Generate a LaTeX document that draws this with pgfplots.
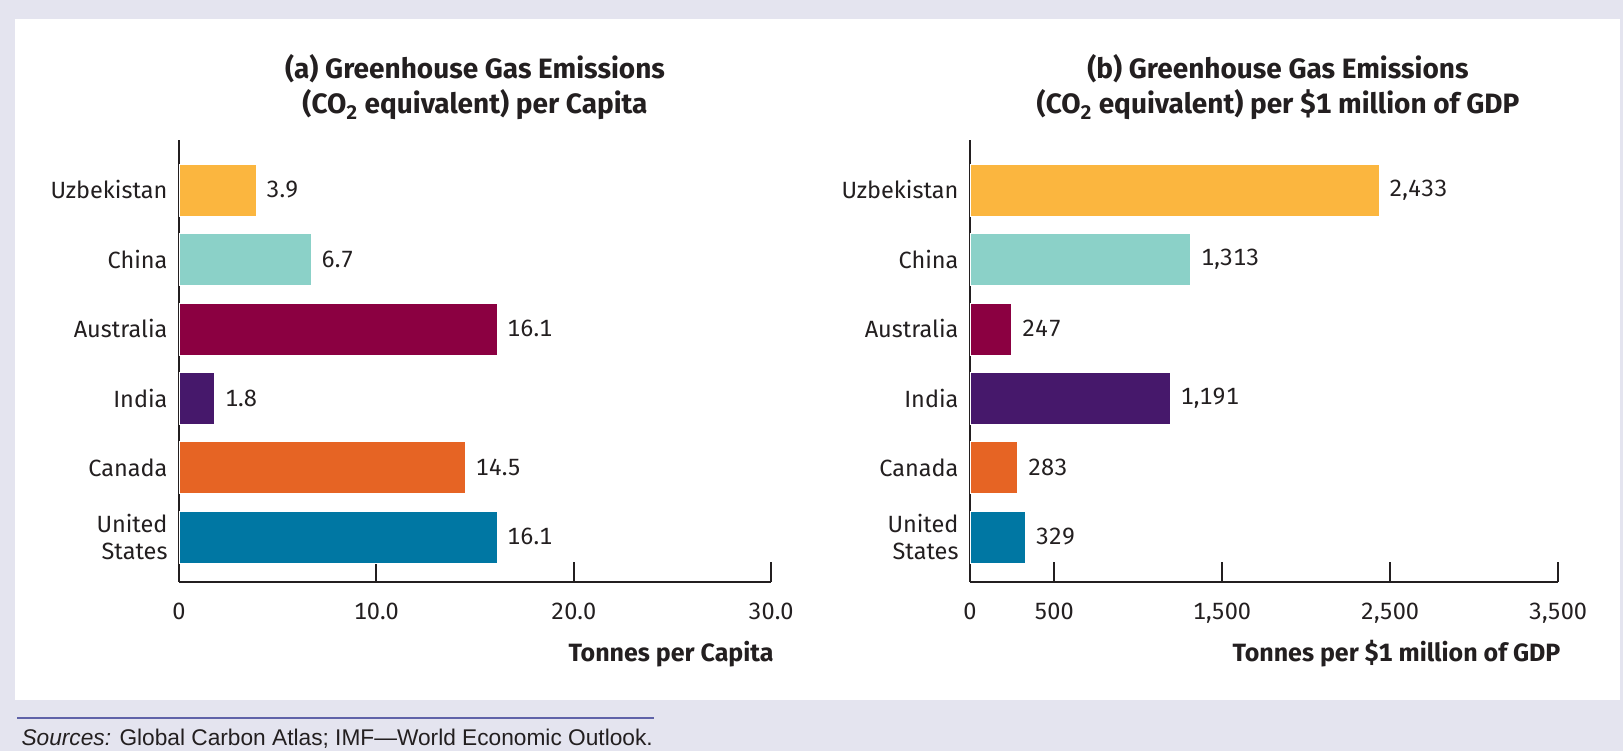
\documentclass[border=0pt]{standalone}
\usepackage{pgfplots}
\pgfplotsset{compat=1.18}
\usepackage{fontspec}
\setmainfont{Fira Sans}[Numbers=Monospaced]
\newfontfamily\srcfont{Liberation Sans}
\definecolor{bgl}{RGB}{228,228,239}
\definecolor{axc}{RGB}{35,31,32}
\definecolor{cUz}{RGB}{251,182,63}
\definecolor{cCh}{RGB}{139,209,200}
\definecolor{cAu}{RGB}{139,0,65}
\definecolor{cIn}{RGB}{70,24,107}
\definecolor{cCa}{RGB}{230,100,36}
\definecolor{cUS}{RGB}{0,119,163}
\definecolor{srcline}{RGB}{95,98,168}
\newcommand{\lblfont}{\fontsize{23.5}{27.5}\selectfont}
\pgfplotsset{
  mybars/.style={
    scale only axis, anchor=south west,
    height=442pt,
    xbar, bar width=52pt,
    ymin=-0.65, ymax=5.72,
    ytick={0,1,2,3,4,5},
    yticklabels={{United\\States},Canada,India,Australia,China,Uzbekistan},
    axis x line*=bottom, axis y line*=left,
    axis line style={-, line width=2pt, color=axc},
    ytick style={draw=none},
    xtick style={line width=2pt, color=axc},
    tick align=inside, major tick length=20pt,
    tick label style={font=\lblfont, text=axc},
    yticklabel style={align=right, xshift=-8pt},
    xticklabel style={yshift=-17pt},
    point meta=x,
    nodes near coords,
    every node near coord/.append style={font=\lblfont, text=axc, anchor=west, xshift=7pt},
    clip=false,
  },
}
\begin{document}
\begin{tikzpicture}
\fill[bgl] (0pt,0pt) rectangle (1623pt,751pt);
\fill[white] (15pt,51pt) rectangle (1620pt,732pt);
\draw[srcline, line width=2pt] (17pt,33pt) -- (654pt,33pt);
\node[anchor=west, font=\srcfont\fontsize{22.7}{26}\selectfont, text=axc] at (18pt,12pt) {\textit{Sources:} Global Carbon Atlas; IMF—World Economic Outlook.};

\node[align=center, font=\bfseries\fontsize{28}{35}\selectfont, text=axc] at (475pt,663.5pt) {(a) Greenhouse Gas Emissions\\(CO\textsubscript{2} equivalent) per Capita};
\node[align=center, font=\bfseries\fontsize{28}{35}\selectfont, text=axc] at (1278pt,663.5pt) {(b) Greenhouse Gas Emissions\\(CO\textsubscript{2} equivalent) per \$1 million of GDP};
\node[anchor=east, font=\bfseries\fontsize{25}{29}\selectfont, text=axc] at (777pt,97pt) {Tonnes per Capita};
\node[anchor=east, font=\bfseries\fontsize{25}{29}\selectfont, text=axc] at (1564pt,97pt) {Tonnes per \$1 million of GDP};

\begin{axis}[mybars,
  at={(179pt,169pt)}, width=592pt,
  xmin=0, xmax=30,
  xtick={0,10,20,30}, xticklabels={0,10.0,20.0,30.0},
  nodes near coords style={/pgf/number format/.cd, fixed, fixed zerofill, precision=1, assume math mode=true},
]
\addplot[fill=cUS, draw=white, bar shift=0pt] coordinates {(16.1,0)};
\addplot[fill=cCa, draw=white, bar shift=0pt] coordinates {(14.5,1)};
\addplot[fill=cIn, draw=white, bar shift=0pt] coordinates {(1.8,2)};
\addplot[fill=cAu, draw=white, bar shift=0pt] coordinates {(16.1,3)};
\addplot[fill=cCh, draw=white, bar shift=0pt] coordinates {(6.7,4)};
\addplot[fill=cUz, draw=white, bar shift=0pt] coordinates {(3.9,5)};
\end{axis}

\begin{axis}[mybars,
  at={(970pt,169pt)}, width=588pt,
  xmin=0, xmax=3500,
  xtick={0,500,1500,2500,3500}, xticklabels={0,500,{1,500},{2,500},{3,500}},
  nodes near coords style={/pgf/number format/.cd, fixed, precision=0, 1000 sep={,}, assume math mode=true},
]
\addplot[fill=cUS, draw=white, bar shift=0pt] coordinates {(329,0)};
\addplot[fill=cCa, draw=white, bar shift=0pt] coordinates {(283,1)};
\addplot[fill=cIn, draw=white, bar shift=0pt] coordinates {(1191,2)};
\addplot[fill=cAu, draw=white, bar shift=0pt] coordinates {(247,3)};
\addplot[fill=cCh, draw=white, bar shift=0pt] coordinates {(1313,4)};
\addplot[fill=cUz, draw=white, bar shift=0pt] coordinates {(2433,5)};
\end{axis}
\end{tikzpicture}
\end{document}
